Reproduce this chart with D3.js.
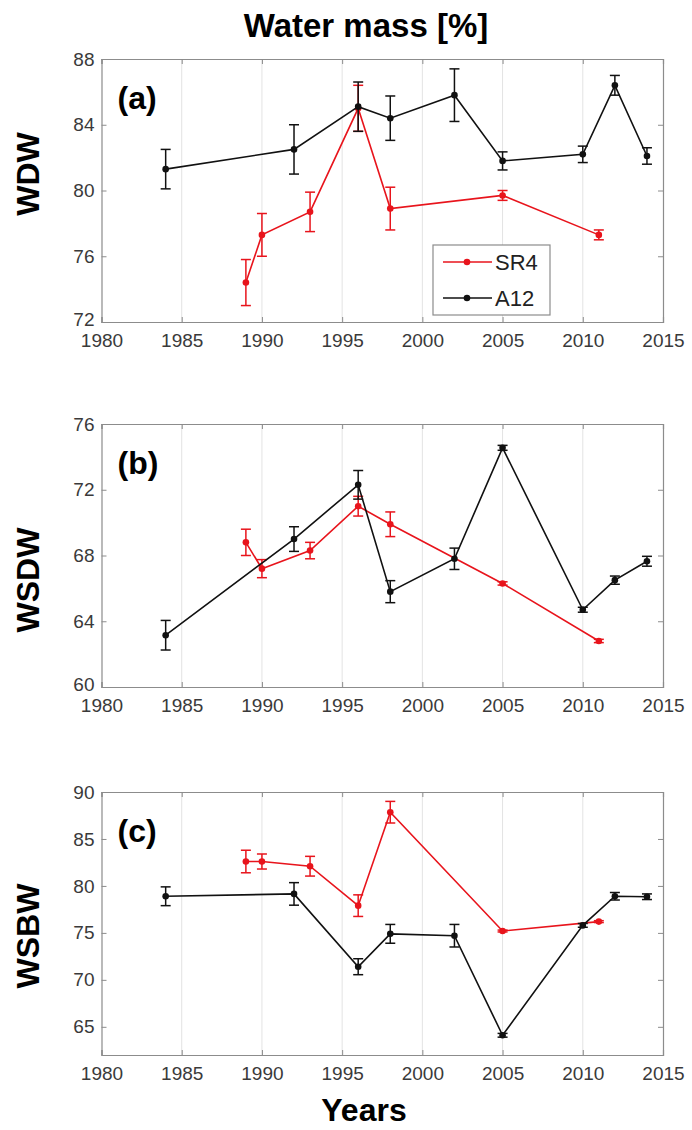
<!DOCTYPE html>
<html>
<head>
<meta charset="utf-8">
<script src="https://cdn.jsdelivr.net/npm/d3@7"></script>
<style>
  body { margin: 0; background: #fff; }
  svg { display: block; font-family: "Liberation Sans", Arial, Helvetica, sans-serif; }
</style>
</head>
<body>
<svg id="chart" width="692" height="1130"></svg>
<script>
// years of the two sections
const yearsSR4 = [1989, 1990, 1993, 1996, 1998, 2005, 2011];
const yearsA12 = [1984, 1992, 1996, 1998, 2002, 2005, 2010, 2012, 2014];

// (a) WDW
const wdwSR4 = [74.4, 77.3, 78.7, 85.0, 78.9, 79.7, 77.3];
const wdwSR4Err = [1.4, 1.3, 1.2, 1.4, 1.3, 0.3, 0.3];
const wdwA12 = [81.3, 82.5, 85.1, 84.4, 85.8, 81.8, 82.2, 86.4, 82.1];
const wdwA12Err = [1.2, 1.5, 1.5, 1.35, 1.6, 0.55, 0.5, 0.6, 0.5];

// (b) WSDW
const wsdwSR4 = [68.8, 67.2, 68.3, 71.0, 69.9, 66.3, 62.8];
const wsdwSR4Err = [0.8, 0.55, 0.5, 0.6, 0.75, 0.1, 0.1];
const wsdwA12 = [63.15, 69.0, 72.3, 65.8, 67.8, 74.55, 64.7, 66.5, 67.65];
const wsdwA12Err = [0.9, 0.75, 0.87, 0.67, 0.65, 0.15, 0.15, 0.25, 0.3];

// (c) WSBW
const wsbwSR4 = [82.6, 82.6, 82.1, 77.9, 87.85, 75.2, 76.2];
const wsbwSR4Err = [1.2, 0.8, 1.05, 1.15, 1.15, 0.1, 0.1];
const wsbwA12 = [78.9, 79.15, 71.4, 74.9, 74.7, 64.1, 75.8, 78.9, 78.85];
const wsbwA12Err = [1.0, 1.2, 0.85, 1.0, 1.2, 0.2, 0.2, 0.4, 0.3];

const xTicks = [1980, 1985, 1990, 1995, 2000, 2005, 2010, 2015];
const panelNames = ["WDW", "WSDW", "WSBW"];
const panelTags = ["(a)", "(b)", "(c)"];
const yDomains = [[72, 88], [60, 76], [62, 90]];
const yTickSets = [[72, 76, 80, 84, 88], [60, 64, 68, 72, 76], [65, 70, 75, 80, 85, 90]];
const seriesNames = ["SR4", "A12"];
const seriesColors = ["#e8141c", "#111111"];

const svg = d3.select("#chart");
const left = 101.5, right = 663, plotH = 263;
const tops = [59, 424, 792];
const labelCenters = [174, 580, 936];

const x = d3.scaleLinear().domain([1980, 2015]).range([left, right]);

const panels = [
  [[yearsSR4, wdwSR4, wdwSR4Err], [yearsA12, wdwA12, wdwA12Err]],
  [[yearsSR4, wsdwSR4, wsdwSR4Err], [yearsA12, wsdwA12, wsdwA12Err]],
  [[yearsSR4, wsbwSR4, wsbwSR4Err], [yearsA12, wsbwA12, wsbwA12Err]]
];

// titles
svg.append("text").attr("x", 366).attr("y", 37)
  .attr("text-anchor", "middle").attr("font-size", 33).attr("font-weight", "bold")
  .text("Water mass [%]");
svg.append("text").attr("x", 364).attr("y", 1121)
  .attr("text-anchor", "middle").attr("font-size", 32).attr("font-weight", "bold")
  .text("Years");

panels.forEach((series, i) => {
  const top = tops[i], bottom = top + plotH;
  const y = d3.scaleLinear().domain(yDomains[i]).range([bottom, top]);
  const g = svg.append("g");

  // vertical grid
  g.selectAll("line.grid").data(xTicks.slice(1, -1)).join("line")
    .attr("class", "grid")
    .attr("x1", d => x(d)).attr("x2", d => x(d))
    .attr("y1", top).attr("y2", bottom)
    .attr("stroke", "#e3e3e3").attr("stroke-width", 1);

  // axes with inward ticks
  const xAxis = g.append("g").attr("transform", `translate(0,${bottom})`)
    .call(d3.axisBottom(x).tickValues(xTicks).tickFormat(d3.format("d")).tickSize(-5).tickPadding(12));
  const xTop = g.append("g").attr("transform", `translate(0,${top})`)
    .call(d3.axisTop(x).tickValues(xTicks).tickFormat("").tickSize(-5));
  const yAxis = g.append("g").attr("transform", `translate(${left},0)`)
    .call(d3.axisLeft(y).tickValues(yTickSets[i]).tickSize(-5).tickPadding(7));
  const yRight = g.append("g").attr("transform", `translate(${right},0)`)
    .call(d3.axisRight(y).tickValues(yTickSets[i]).tickFormat("").tickSize(-5));
  [xAxis, xTop, yAxis, yRight].forEach(a => {
    a.select(".domain").attr("stroke", "#8c8c8c").attr("stroke-width", 1.2);
    a.selectAll(".tick line").attr("stroke", "#8c8c8c");
    a.selectAll("text").attr("font-size", 19).attr("fill", "#3a3a3a")
      .attr("font-family", "'Liberation Sans', Arial, sans-serif");
  });
  xAxis.selectAll("text").attr("dy", "0.71em");
  // keep the lowest y label clear of the first year label
  yAxis.selectAll(".tick text").attr("dy", d => d === yDomains[i][0] ? "0.2em" : "0.32em");

  // y label
  svg.append("text")
    .attr("transform", `translate(39,${labelCenters[i]}) rotate(-90)`)
    .attr("text-anchor", "middle").attr("font-size", 32).attr("font-weight", "bold")
    .text(panelNames[i]);

  // panel tag
  g.append("text").attr("x", left + 16).attr("y", top + 50)
    .attr("font-size", 32).attr("font-weight", "bold").text(panelTags[i]);

  // series
  series.forEach(([yrs, vals, errs], s) => {
    const col = seriesColors[s];
    const pts = yrs.map((yr, k) => ({ yr, v: vals[k], e: errs[k] }));
    const sg = g.append("g");
    sg.append("path").datum(pts)
      .attr("fill", "none").attr("stroke", col).attr("stroke-width", 1.6)
      .attr("d", d3.line().x(d => x(d.yr)).y(d => y(d.v)));
    const eb = sg.selectAll("g.err").data(pts).join("g").attr("class", "err")
      .attr("stroke", col).attr("stroke-width", 1.5);
    eb.append("line").attr("x1", d => x(d.yr)).attr("x2", d => x(d.yr))
      .attr("y1", d => y(d.v - d.e)).attr("y2", d => y(d.v + d.e));
    eb.append("line").attr("x1", d => x(d.yr) - 5).attr("x2", d => x(d.yr) + 5)
      .attr("y1", d => y(d.v + d.e)).attr("y2", d => y(d.v + d.e));
    eb.append("line").attr("x1", d => x(d.yr) - 5).attr("x2", d => x(d.yr) + 5)
      .attr("y1", d => y(d.v - d.e)).attr("y2", d => y(d.v - d.e));
    sg.selectAll("circle").data(pts).join("circle")
      .attr("cx", d => x(d.yr)).attr("cy", d => y(d.v)).attr("r", 3.3)
      .attr("fill", col);
  });

  // legend in first panel
  if (i === 0) {
    const lg = g.append("g").attr("transform", "translate(433,245)");
    lg.append("rect").attr("width", 117).attr("height", 70)
      .attr("fill", "#fff").attr("stroke", "#8c8c8c").attr("stroke-width", 1.2);
    seriesNames.forEach((name, s) => {
      const ly = 17 + s * 36;
      lg.append("line").attr("x1", 10).attr("x2", 59).attr("y1", ly).attr("y2", ly)
        .attr("stroke", seriesColors[s]).attr("stroke-width", 1.6);
      lg.append("circle").attr("cx", 34).attr("cy", ly).attr("r", 3.3).attr("fill", seriesColors[s]);
      lg.append("text").attr("x", 62).attr("y", ly + 8)
        .attr("font-size", 22).attr("fill", "#222").text(name);
    });
  }
});
</script>
</body>
</html>
